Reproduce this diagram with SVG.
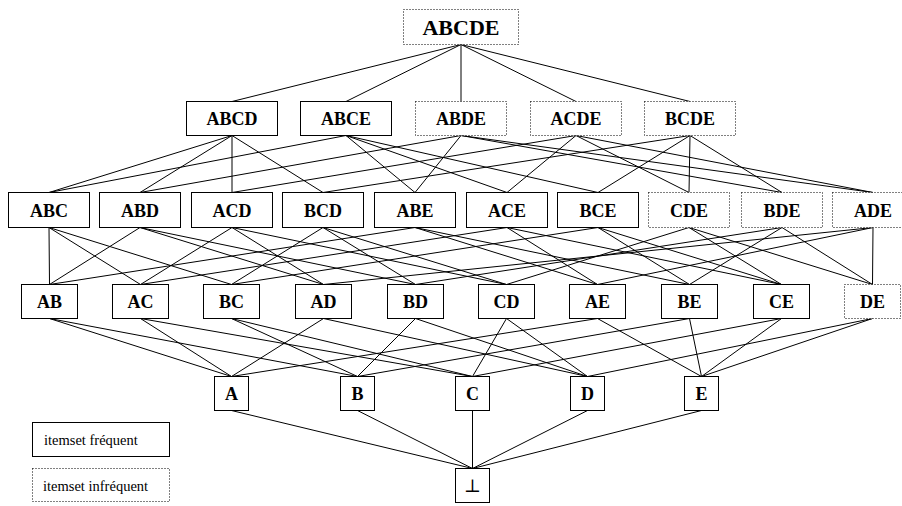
<svg xmlns="http://www.w3.org/2000/svg" width="902" height="506" viewBox="0 0 902 506" font-family="'Liberation Serif', 'Times New Roman', Times, 'DejaVu Serif', serif">
<style>
.bg{fill:#fff}
.f{fill:#fff;stroke:#000;stroke-width:1}
.i{fill:#fff;stroke:#000;stroke-width:1;stroke-dasharray:1 2}
.t{font-family:'Liberation Serif','Times New Roman',Times,'DejaVu Serif',serif;font-weight:bold;font-size:18px;text-anchor:middle;fill:#000}
.top{font-size:22px}
.bot{font-weight:normal}
.lg{font-family:'Liberation Serif','Times New Roman',Times,serif;font-size:14.5px;fill:#000}
#connectors line{stroke:#000;stroke-width:1}
</style>
<rect class="bg" x="0" y="0" width="902" height="506"/>
<g id="connectors">
<line x1="461" y1="44.5" x2="232" y2="101.5"/>
<line x1="461" y1="44.5" x2="346" y2="101.5"/>
<line x1="461" y1="44.5" x2="461" y2="101.5"/>
<line x1="461" y1="44.5" x2="576" y2="101.5"/>
<line x1="461" y1="44.5" x2="690" y2="101.5"/>

<line x1="232" y1="135.5" x2="49" y2="192.5"/>
<line x1="232" y1="135.5" x2="140" y2="192.5"/>
<line x1="232" y1="135.5" x2="232" y2="192.5"/>
<line x1="232" y1="135.5" x2="323" y2="192.5"/>
<line x1="346" y1="135.5" x2="49" y2="192.5"/>
<line x1="346" y1="135.5" x2="415" y2="192.5"/>
<line x1="346" y1="135.5" x2="507" y2="192.5"/>
<line x1="346" y1="135.5" x2="598" y2="192.5"/>
<line x1="461" y1="135.5" x2="140" y2="192.5"/>
<line x1="461" y1="135.5" x2="415" y2="192.5"/>
<line x1="461" y1="135.5" x2="873" y2="192.5"/>
<line x1="461" y1="135.5" x2="782" y2="192.5"/>
<line x1="576" y1="135.5" x2="232" y2="192.5"/>
<line x1="576" y1="135.5" x2="507" y2="192.5"/>
<line x1="576" y1="135.5" x2="873" y2="192.5"/>
<line x1="576" y1="135.5" x2="689" y2="192.5"/>
<line x1="690" y1="135.5" x2="323" y2="192.5"/>
<line x1="690" y1="135.5" x2="598" y2="192.5"/>
<line x1="690" y1="135.5" x2="782" y2="192.5"/>
<line x1="690" y1="135.5" x2="689" y2="192.5"/>

<line x1="49" y1="227.5" x2="49.5" y2="284.5"/>
<line x1="49" y1="227.5" x2="140.5" y2="284.5"/>
<line x1="49" y1="227.5" x2="231.5" y2="284.5"/>
<line x1="140" y1="227.5" x2="49.5" y2="284.5"/>
<line x1="140" y1="227.5" x2="323.5" y2="284.5"/>
<line x1="140" y1="227.5" x2="415.5" y2="284.5"/>
<line x1="232" y1="227.5" x2="140.5" y2="284.5"/>
<line x1="232" y1="227.5" x2="323.5" y2="284.5"/>
<line x1="232" y1="227.5" x2="506.5" y2="284.5"/>
<line x1="323" y1="227.5" x2="231.5" y2="284.5"/>
<line x1="323" y1="227.5" x2="415.5" y2="284.5"/>
<line x1="323" y1="227.5" x2="506.5" y2="284.5"/>
<line x1="415" y1="227.5" x2="49.5" y2="284.5"/>
<line x1="415" y1="227.5" x2="597.5" y2="284.5"/>
<line x1="415" y1="227.5" x2="689.5" y2="284.5"/>
<line x1="507" y1="227.5" x2="140.5" y2="284.5"/>
<line x1="507" y1="227.5" x2="597.5" y2="284.5"/>
<line x1="507" y1="227.5" x2="781.5" y2="284.5"/>
<line x1="598" y1="227.5" x2="231.5" y2="284.5"/>
<line x1="598" y1="227.5" x2="689.5" y2="284.5"/>
<line x1="598" y1="227.5" x2="781.5" y2="284.5"/>
<line x1="689" y1="227.5" x2="506.5" y2="284.5"/>
<line x1="689" y1="227.5" x2="781.5" y2="284.5"/>
<line x1="689" y1="227.5" x2="872.5" y2="284.5"/>
<line x1="782" y1="227.5" x2="415.5" y2="284.5"/>
<line x1="782" y1="227.5" x2="689.5" y2="284.5"/>
<line x1="782" y1="227.5" x2="872.5" y2="284.5"/>
<line x1="873" y1="227.5" x2="323.5" y2="284.5"/>
<line x1="873" y1="227.5" x2="597.5" y2="284.5"/>
<line x1="873" y1="227.5" x2="872.5" y2="284.5"/>

<line x1="49.5" y1="318.5" x2="231.5" y2="376.5"/>
<line x1="49.5" y1="318.5" x2="357.5" y2="376.5"/>
<line x1="140.5" y1="318.5" x2="231.5" y2="376.5"/>
<line x1="140.5" y1="318.5" x2="472.5" y2="376.5"/>
<line x1="231.5" y1="318.5" x2="357.5" y2="376.5"/>
<line x1="231.5" y1="318.5" x2="472.5" y2="376.5"/>
<line x1="323.5" y1="318.5" x2="231.5" y2="376.5"/>
<line x1="323.5" y1="318.5" x2="587.5" y2="376.5"/>
<line x1="415.5" y1="318.5" x2="357.5" y2="376.5"/>
<line x1="415.5" y1="318.5" x2="587.5" y2="376.5"/>
<line x1="506.5" y1="318.5" x2="472.5" y2="376.5"/>
<line x1="506.5" y1="318.5" x2="587.5" y2="376.5"/>
<line x1="597.5" y1="318.5" x2="231.5" y2="376.5"/>
<line x1="597.5" y1="318.5" x2="701.5" y2="376.5"/>
<line x1="689.5" y1="318.5" x2="357.5" y2="376.5"/>
<line x1="689.5" y1="318.5" x2="701.5" y2="376.5"/>
<line x1="781.5" y1="318.5" x2="472.5" y2="376.5"/>
<line x1="781.5" y1="318.5" x2="701.5" y2="376.5"/>
<line x1="872.5" y1="318.5" x2="587.5" y2="376.5"/>
<line x1="872.5" y1="318.5" x2="701.5" y2="376.5"/>

<line x1="231.5" y1="410.5" x2="472.5" y2="468.5"/>
<line x1="357.5" y1="410.5" x2="472.5" y2="468.5"/>
<line x1="472.5" y1="410.5" x2="472.5" y2="468.5"/>
<line x1="587.5" y1="410.5" x2="472.5" y2="468.5"/>
<line x1="701.5" y1="410.5" x2="472.5" y2="468.5"/>
</g>

<g id="ABCDE"><rect class="i" x="403.5" y="9.5" width="115" height="35"/><text class="t top" x="461" y="34.5">ABCDE</text></g>

<g id="ABCD"><rect class="f" x="186.5" y="101.5" width="91" height="34"/><text class="t" x="232" y="124.5">ABCD</text></g>
<g id="ABCE"><rect class="f" x="300.5" y="101.5" width="91" height="34"/><text class="t" x="346" y="124.5">ABCE</text></g>
<g id="ABDE"><rect class="i" x="415.5" y="101.5" width="91" height="34"/><text class="t" x="461" y="124.5">ABDE</text></g>
<g id="ACDE"><rect class="i" x="530.5" y="101.5" width="91" height="34"/><text class="t" x="576" y="124.5">ACDE</text></g>
<g id="BCDE"><rect class="i" x="644.5" y="101.5" width="91" height="34"/><text class="t" x="690" y="124.5">BCDE</text></g>

<g id="ABC"><rect class="f" x="8.5" y="192.5" width="81" height="35"/><text class="t" x="49" y="216.5">ABC</text></g>
<g id="ABD"><rect class="f" x="99.5" y="192.5" width="81" height="35"/><text class="t" x="140" y="216.5">ABD</text></g>
<g id="ACD"><rect class="f" x="191.5" y="192.5" width="81" height="35"/><text class="t" x="232" y="216.5">ACD</text></g>
<g id="BCD"><rect class="f" x="282.5" y="192.5" width="81" height="35"/><text class="t" x="323" y="216.5">BCD</text></g>
<g id="ABE"><rect class="f" x="374.5" y="192.5" width="81" height="35"/><text class="t" x="415" y="216.5">ABE</text></g>
<g id="ACE"><rect class="f" x="466.5" y="192.5" width="81" height="35"/><text class="t" x="507" y="216.5">ACE</text></g>
<g id="BCE"><rect class="f" x="557.5" y="192.5" width="81" height="35"/><text class="t" x="598" y="216.5">BCE</text></g>
<g id="CDE"><rect class="i" x="648.5" y="192.5" width="81" height="35"/><text class="t" x="689" y="216.5">CDE</text></g>
<g id="BDE"><rect class="i" x="741.5" y="192.5" width="81" height="35"/><text class="t" x="782" y="216.5">BDE</text></g>
<g id="ADE"><rect class="i" x="832.5" y="192.5" width="81" height="35"/><text class="t" x="873" y="216.5">ADE</text></g>

<g id="AB"><rect class="f" x="21.5" y="284.5" width="56" height="34"/><text class="t" x="49.5" y="307.5">AB</text></g>
<g id="AC"><rect class="f" x="112.5" y="284.5" width="56" height="34"/><text class="t" x="140.5" y="307.5">AC</text></g>
<g id="BC"><rect class="f" x="203.5" y="284.5" width="56" height="34"/><text class="t" x="231.5" y="307.5">BC</text></g>
<g id="AD"><rect class="f" x="295.5" y="284.5" width="56" height="34"/><text class="t" x="323.5" y="307.5">AD</text></g>
<g id="BD"><rect class="f" x="387.5" y="284.5" width="56" height="34"/><text class="t" x="415.5" y="307.5">BD</text></g>
<g id="CD"><rect class="f" x="478.5" y="284.5" width="56" height="34"/><text class="t" x="506.5" y="307.5">CD</text></g>
<g id="AE"><rect class="f" x="569.5" y="284.5" width="56" height="34"/><text class="t" x="597.5" y="307.5">AE</text></g>
<g id="BE"><rect class="f" x="661.5" y="284.5" width="56" height="34"/><text class="t" x="689.5" y="307.5">BE</text></g>
<g id="CE"><rect class="f" x="753.5" y="284.5" width="56" height="34"/><text class="t" x="781.5" y="307.5">CE</text></g>
<g id="DE"><rect class="i" x="844.5" y="284.5" width="56" height="34"/><text class="t" x="872.5" y="307.5">DE</text></g>

<g id="A"><rect class="f" x="214.5" y="376.5" width="34" height="34"/><text class="t" x="231.5" y="399.5">A</text></g>
<g id="B"><rect class="f" x="340.5" y="376.5" width="34" height="34"/><text class="t" x="357.5" y="399.5">B</text></g>
<g id="C"><rect class="f" x="455.5" y="376.5" width="34" height="34"/><text class="t" x="472.5" y="399.5">C</text></g>
<g id="D"><rect class="f" x="570.5" y="376.5" width="34" height="34"/><text class="t" x="587.5" y="399.5">D</text></g>
<g id="E"><rect class="f" x="684.5" y="376.5" width="34" height="34"/><text class="t" x="701.5" y="399.5">E</text></g>

<g id="bottom"><rect class="f" x="455.5" y="468.5" width="34" height="34"/><text class="t bot" x="472.5" y="491.5">⊥</text></g>

<g id="legend-frequent"><rect class="f" x="32.5" y="422.5" width="137" height="34"/><text class="lg" x="44" y="444.5">itemset fréquent</text></g>
<g id="legend-infrequent"><rect class="i" x="32.5" y="468.5" width="137" height="33"/><text class="lg" x="43" y="490.5">itemset infréquent</text></g>
</svg>
